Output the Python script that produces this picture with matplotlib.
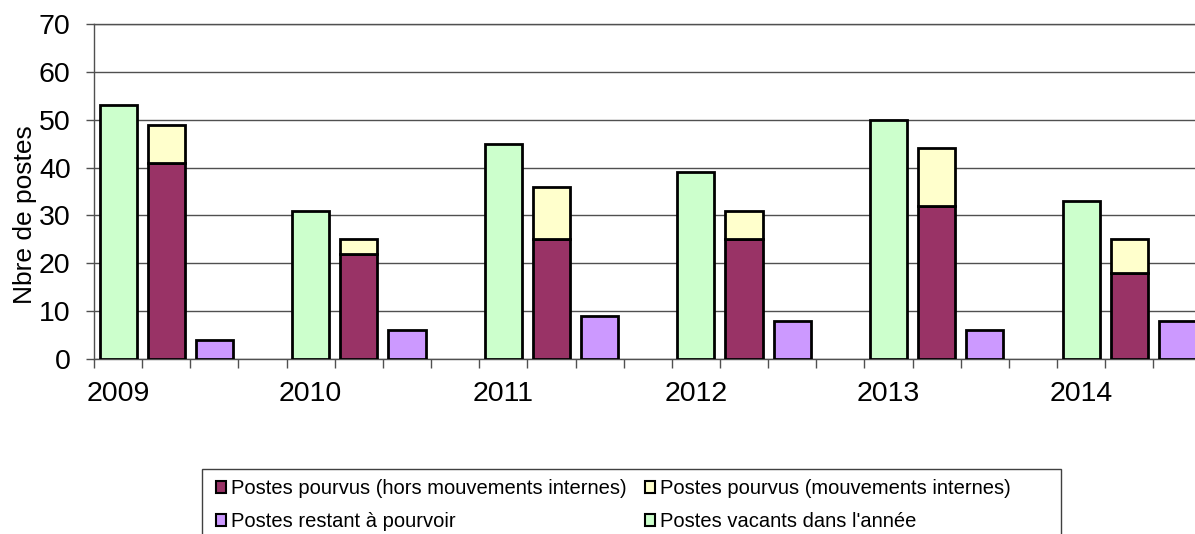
import numpy as np
import matplotlib.pyplot as plt
from matplotlib.patches import Patch, Rectangle

annees = ['2009', '2010', '2011', '2012', '2013', '2014']
vacants = [53, 31, 45, 39, 50, 33]
pourvus_hors = [41, 22, 25, 25, 32, 18]
pourvus_internes = [8, 3, 11, 6, 12, 7]
restant = [4, 6, 9, 8, 6, 8]

c_vac = '#CCFFCC'
c_hors = '#993366'
c_int = '#FFFFCC'
c_rest = '#CC99FF'
grid_c = '#505050'


def main():
    plt.rcParams['font.family'] = ['Liberation Sans', 'DejaVu Sans']
    W, H = 1195, 534
    fig = plt.figure(figsize=(W / 100, H / 100), dpi=100)
    ax = fig.add_axes([94 / W, 175 / H, 1101 / W, 335 / H])

    slot = 48.15
    x0 = np.arange(len(annees)) * 4
    bw = 0.77
    kw = dict(width=bw, edgecolor='black', linewidth=2.0, zorder=3)
    ax.bar(x0 + 0.5, vacants, color=c_vac, **kw)
    ax.bar(x0 + 1.5, pourvus_hors, color=c_hors, **kw)
    ax.bar(x0 + 1.5, pourvus_internes, bottom=pourvus_hors, color=c_int, **kw)
    ax.bar(x0 + 2.5, restant, color=c_rest, **kw)

    ax.set_xlim(0, 1101 / slot)
    ax.set_ylim(0, 70)
    ax.set_yticks(range(0, 71, 10))
    ax.yaxis.grid(True, color=grid_c, linewidth=1.0)
    ax.set_axisbelow(True)

    ax.set_xticks(x0 + 0.5)
    ax.set_xticklabels(annees)
    ax.set_xticks(np.arange(0, 23), minor=True)
    ax.tick_params(axis='x', which='major', length=0, pad=16, labelsize=20.5)
    ax.tick_params(axis='x', which='minor', length=6.5, width=1.0, color=grid_c)
    ax.tick_params(axis='y', length=5.8, width=1.0, color=grid_c, pad=11, labelsize=20.5)

    for s in ['left', 'bottom', 'top']:
        ax.spines[s].set_color(grid_c)
        ax.spines[s].set_linewidth(1.0)
    ax.spines['right'].set_visible(False)

    ax.set_ylabel('Nbre de postes', fontsize=19)
    ax.yaxis.set_label_coords(-0.052, 0.43)

    handles = [
        Patch(facecolor=c_hors, edgecolor='black', linewidth=1.5),
        Patch(facecolor=c_rest, edgecolor='black', linewidth=1.5),
        Patch(facecolor=c_int, edgecolor='black', linewidth=1.5),
        Patch(facecolor=c_vac, edgecolor='black', linewidth=1.5),
    ]
    labels = ['Postes pourvus (hors mouvements internes)',
              'Postes restant à pourvoir',
              'Postes pourvus (mouvements internes)',
              "Postes vacants dans l'année"]
    fig.legend(handles, labels, ncol=2, loc='upper left',
               bbox_to_anchor=(212 / W, 1 - 475 / H), frameon=False,
               fontsize=14.5, handlelength=0.5, handleheight=0.5,
               handletextpad=0.25, labelspacing=0.7, columnspacing=0.9,
               borderpad=0.2, borderaxespad=0)

    fig.patches.append(Rectangle((202 / W, -0.05), (1061 - 202) / W, (534 - 469) / H + 0.05,
                                 transform=fig.transFigure, fill=False,
                                 edgecolor='#404040', linewidth=1))

    fig.savefig('out.png', dpi=100)


if __name__ == '__main__':
    main()
